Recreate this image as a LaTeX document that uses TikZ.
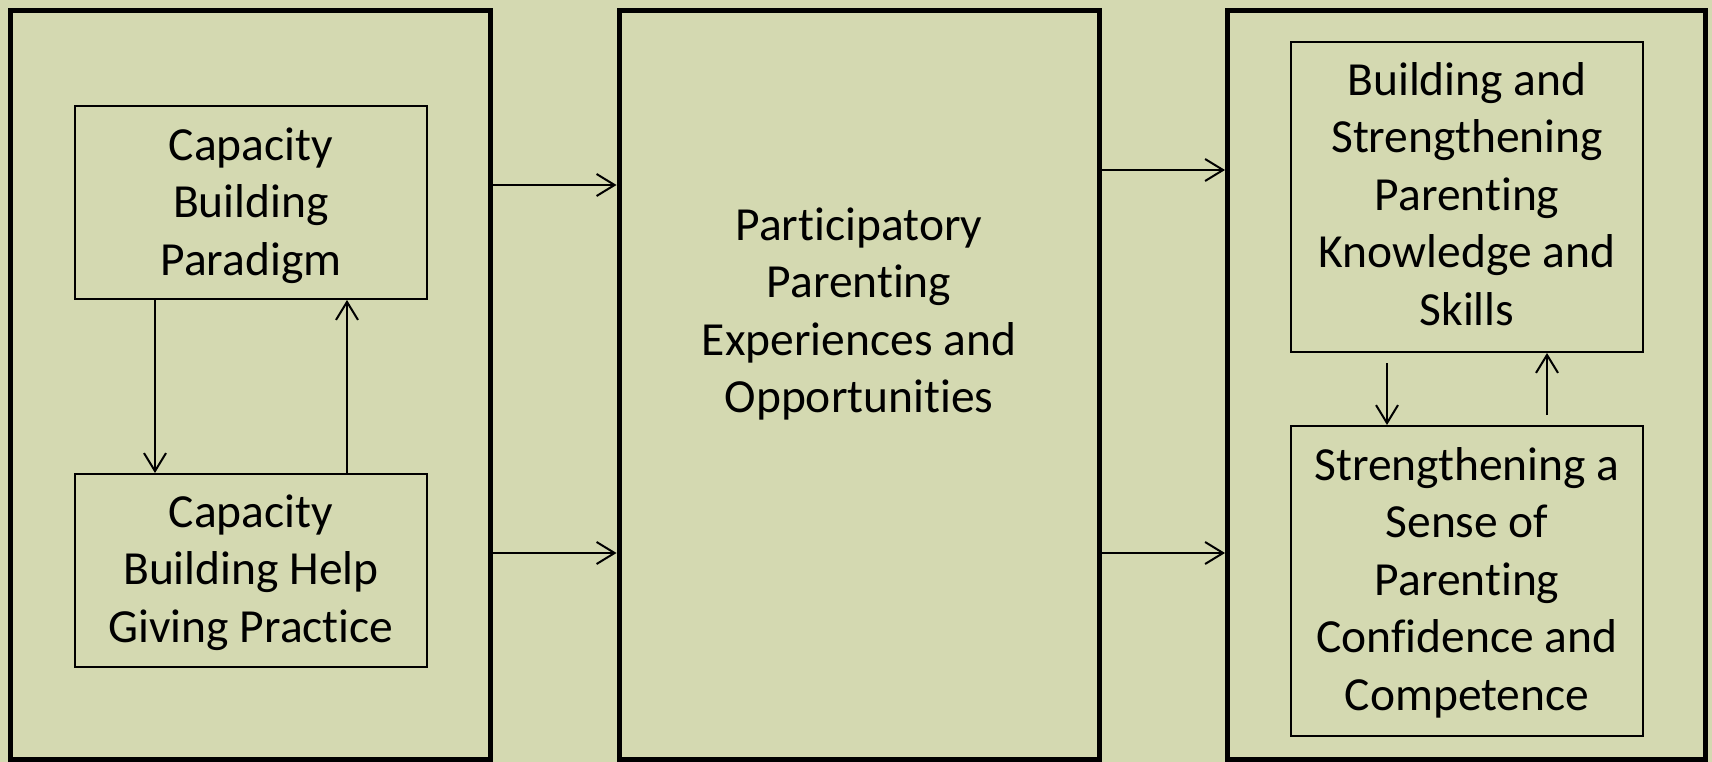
\documentclass[tikz,border=0pt]{standalone}
\usepackage{fontspec}
\setmainfont{Carlito}[Ligatures={NoCommon}]
\usetikzlibrary{arrows.meta}
\definecolor{bgolive}{RGB}{212,217,177}
\tikzset{
  outerbox/.style={draw=black, line width=5pt, inner sep=0pt, minimum width=480pt, minimum height=748.5pt},
  innerbox/.style={draw=black, line width=2pt, inner sep=0pt},
  txt/.style={anchor=north, align=center, inner sep=0pt, font=\fontsize{47.5}{57.5}\selectfont},
  arr/.style={draw=black, line width=2pt, -{Straight Barb[length=18pt, width=22pt]}},
}
\begin{document}
\begin{tikzpicture}[x=1pt, y=-1pt]
\fill[bgolive] (0,0) rectangle (1712,762);
\useasboundingbox (0,0) rectangle (1712,762);

% outer boxes
\node[outerbox] (L) at (250.75,384.75) {};
\node[outerbox] (M) at (859,384.75) {};
\node[outerbox, minimum width=478pt] (R) at (1466.5,384.75) {};

% inner boxes
\node[innerbox, minimum width=352pt, minimum height=193pt] (cbp) at (251,202.5) {};
\node[innerbox, minimum width=352pt, minimum height=193pt] (cbh) at (251,570.5) {};
\node[innerbox, minimum width=352pt, minimum height=310pt] (bsk) at (1467,197) {};
\node[innerbox, minimum width=352pt, minimum height=310pt] (spc) at (1467,581) {};

% texts
\node[txt] (tcbp) at (251,119.75) {\strut Capacity\\Building\\Paradigm\strut};
\node[txt] (tcbh) at (251,486.75) {\strut Capacity\\Building Help\\Giving Practice\strut};
\node[txt] (tm) at (859,199.75) {\strut Participatory\\Parenting\\Experiences and\\Opportunities\strut};
\node[txt] (tbsk) at (1467,54.75) {\strut Building and\\Strengthening\\Parenting\\Knowledge and\\Skills\strut};
\node[txt] (tspc) at (1467,439.75) {\strut Strengthening a\\Sense of\\Parenting\\Confidence and\\Competence\strut};

% helper coordinates
\coordinate (xa) at (155,0);
\coordinate (xb) at (347,0);
\coordinate (xc) at (1387,0);
\coordinate (xd) at (1547,0);
\coordinate (ya) at (0,185);
\coordinate (yb) at (0,553);
\coordinate (yc) at (0,170);
\coordinate (yd) at (0,553);

% connectors
\draw[arr] (cbp.south -| xa) -- (cbh.north -| xa);
\draw[arr] (cbh.north -| xb) -- (cbp.south -| xb);
\draw[arr] (L.east |- ya) -- (M.west |- ya);
\draw[arr] (L.east |- yb) -- (M.west |- yb);
\draw[arr] (M.east |- yc) -- (R.west |- yc);
\draw[arr] (M.east |- yd) -- (R.west |- yd);
\draw[arr, shorten <=10pt] (bsk.south -| xc) -- (spc.north -| xc);
\draw[arr, shorten <=10pt] (spc.north -| xd) -- (bsk.south -| xd);
\end{tikzpicture}
\end{document}
